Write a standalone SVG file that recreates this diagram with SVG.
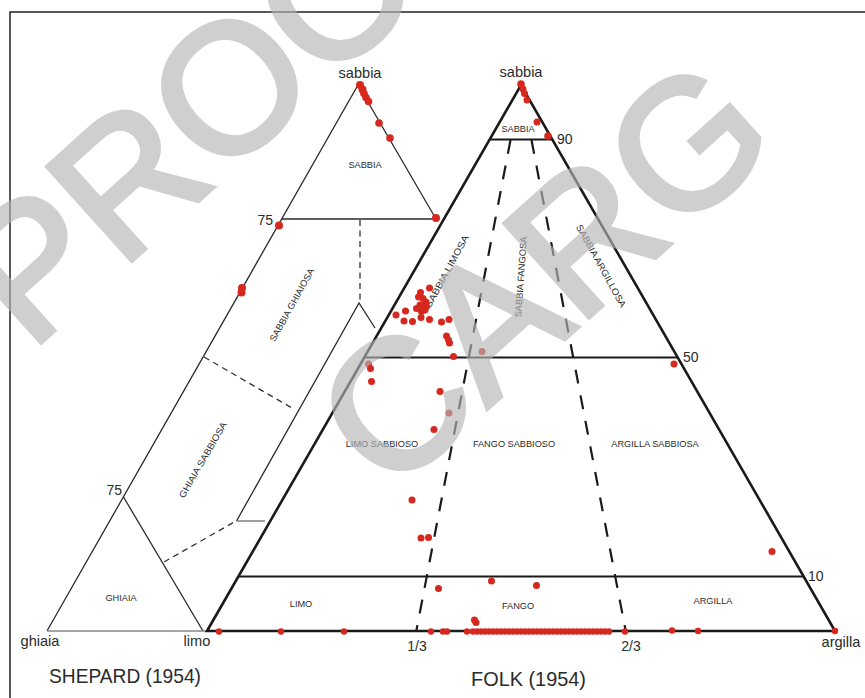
<svg xmlns="http://www.w3.org/2000/svg" width="865" height="698" viewBox="0 0 865 698">
<style>
.t{font-family:"Liberation Sans",Arial,sans-serif;fill:#2b2b2b}
.lab{font-size:9.2px;text-anchor:middle}
.num{font-size:14px}
.ax{font-size:14.6px;text-anchor:middle}
.ttl{font-size:21px}
.sh{fill:none;stroke:#2a2a2a;stroke-width:1.3}
.shg{fill:none;stroke:#888;stroke-width:1.6}
.shd{fill:none;stroke:#333;stroke-width:1.3;stroke-dasharray:6 4.5}
.fk{fill:none;stroke:#1a1a1a;stroke-width:2.6;stroke-linejoin:miter}
.fh{fill:none;stroke:#1a1a1a;stroke-width:2}
.fd{fill:none;stroke:#1a1a1a;stroke-width:2.2;stroke-dasharray:14 12}
.d{fill:#d6281e}
.wm{font-family:"Liberation Sans",Arial,sans-serif;font-size:183px;fill:#b5b5b5;stroke:#b5b5b5;stroke-width:5}
</style>
<rect width="865" height="698" fill="#fff"/>
<path d="M10,698 V12 H865" fill="none" stroke="#222" stroke-width="1.5"/>

<g id="shepard">
  <path class="sh" d="M47,631 L358,85 L436,219"/>
  <path class="sh" d="M282,219 H436"/>
  <path class="sh" d="M123.5,497 L203,631"/>
  <path class="shg" d="M47,631 H206"/>
  <path class="sh" d="M236.5,521 L359,303 L375,328"/>
  <path class="shg" d="M236.5,521 H265"/>
  <path class="shd" d="M360,220 V300"/>
  <path class="shd" d="M204,357 L292,408"/>
  <path class="shd" d="M164,562 L236,521"/>
  <text class="t ax" x="360" y="78">sabbia</text>
  <text class="t lab" x="365" y="168">SABBIA</text>
  <text class="t num" x="273" y="225" text-anchor="end">75</text>
  <text class="t num" x="122" y="495" text-anchor="end">75</text>
  <text class="t lab" transform="translate(292,305) rotate(-61)" y="3" textLength="82" lengthAdjust="spacingAndGlyphs">SABBIA GHIAIOSA</text>
  <text class="t lab" transform="translate(203,460) rotate(-60)" y="3" textLength="86" lengthAdjust="spacingAndGlyphs">GHIAIA SABBIOSA</text>
  <text class="t lab" x="121" y="601">GHIAIA</text>
  <text class="t ax" x="40" y="646">ghiaia</text>
  <text class="t ax" x="197" y="646">limo</text>
  <text class="t ttl" x="49" y="683" textLength="152" lengthAdjust="spacingAndGlyphs">SHEPARD (1954)</text>
</g>

<g id="folk">
  <polygon class="fk" points="207,631 521,85 835,631"/>
  <path class="fh" d="M489,139.5 H553"/>
  <path class="fh" d="M363,357.5 H678"/>
  <path class="fh" d="M238,576.5 H804"/>
  <path class="fd" d="M510.5,140 L416.3,631"/>
  <path class="fd" d="M531.5,140 L625.7,631"/>
  <text class="t ax" x="521" y="77">sabbia</text>
  <text class="t lab" x="518" y="132">SABBIA</text>
  <text class="t num" x="557" y="144">90</text>
  <text class="t num" x="683" y="362">50</text>
  <text class="t num" x="808" y="581">10</text>
  <text class="t lab" transform="translate(447,271.5) rotate(-61.5)" y="3" textLength="81" lengthAdjust="spacingAndGlyphs">SABBIA LIMOSA</text>
  <text class="t lab" transform="translate(521,277) rotate(-86)" y="3" textLength="81" lengthAdjust="spacingAndGlyphs">SABBIA FANGOSA</text>
  <text class="t lab" transform="translate(601,266) rotate(61)" y="3" textLength="93" lengthAdjust="spacingAndGlyphs">SABBIA ARGILLOSA</text>
  <text class="t lab" x="382" y="447">LIMO SABBIOSO</text>
  <text class="t lab" x="514" y="447">FANGO SABBIOSO</text>
  <text class="t lab" x="655" y="447">ARGILLA SABBIOSA</text>
  <text class="t lab" x="301" y="607">LIMO</text>
  <text class="t lab" x="518" y="609">FANGO</text>
  <text class="t lab" x="713" y="604">ARGILLA</text>
  <text class="t num" x="417" y="651" text-anchor="middle">1/3</text>
  <text class="t num" x="631" y="651" text-anchor="middle">2/3</text>
  <text class="t ax" x="841" y="647">argilla</text>
  <text class="t ttl" x="471" y="686" textLength="115" lengthAdjust="spacingAndGlyphs">FOLK (1954)</text>
</g>

<g id="samples" class="d">
  <circle cx="360" cy="85" r="4"/><circle cx="362.5" cy="89.5" r="4"/><circle cx="364" cy="93.5" r="3.8"/><circle cx="366" cy="97.5" r="3.8"/><circle cx="368.5" cy="101.5" r="3.8"/><circle cx="379" cy="123" r="3.8"/><circle cx="390" cy="138" r="3.8"/><circle cx="436" cy="218" r="4"/><circle cx="279" cy="225.5" r="4"/><circle cx="242" cy="288" r="4"/><circle cx="241.5" cy="292.5" r="4"/>
  <circle cx="521" cy="84" r="3.8"/><circle cx="523" cy="89" r="3.5"/><circle cx="524.5" cy="93.5" r="3.5"/><circle cx="527" cy="100" r="3.5"/><circle cx="537" cy="122" r="3.5"/><circle cx="548" cy="136" r="3.8"/>
  <circle cx="420.5" cy="292.5" r="3.5"/><circle cx="429.5" cy="288" r="3.5"/><circle cx="418.5" cy="297" r="3.5"/><circle cx="423" cy="298.5" r="3.5"/><circle cx="426" cy="302" r="3.5"/><circle cx="420" cy="305" r="3.5"/><circle cx="423.5" cy="305.5" r="3.5"/><circle cx="426.5" cy="306.5" r="3.5"/><circle cx="416.5" cy="308.5" r="3.5"/><circle cx="421.5" cy="311.5" r="3.5"/><circle cx="425" cy="310" r="3.5"/><circle cx="396" cy="315" r="3.5"/><circle cx="405.5" cy="311" r="3.5"/><circle cx="404" cy="321" r="3.5"/><circle cx="412.5" cy="321.5" r="3.5"/><circle cx="421" cy="317.5" r="3.5"/><circle cx="429.5" cy="319.5" r="3.5"/><circle cx="441.5" cy="322" r="3.5"/><circle cx="449" cy="319.5" r="3.5"/><circle cx="446.5" cy="336" r="3.5"/><circle cx="448.5" cy="340" r="3.5"/><circle cx="449.5" cy="343" r="3.5"/><circle cx="453.5" cy="356.5" r="3.5"/><circle cx="482" cy="351.5" r="3.5"/><circle cx="368.5" cy="364" r="3.5"/><circle cx="370.5" cy="368.5" r="3.5"/><circle cx="371.5" cy="381.5" r="3.5"/><circle cx="440" cy="391.5" r="3.5"/><circle cx="449" cy="413" r="3.5"/><circle cx="434" cy="429.5" r="3.5"/><circle cx="412" cy="500" r="3.5"/><circle cx="421" cy="538" r="3.5"/><circle cx="428.5" cy="537.5" r="3.5"/><circle cx="674" cy="364" r="3.5"/><circle cx="772" cy="551.5" r="3.5"/><circle cx="438.5" cy="588.5" r="3.5"/><circle cx="491.5" cy="581" r="3.5"/><circle cx="536.5" cy="585.5" r="3.5"/><circle cx="474.5" cy="620" r="3.5"/><circle cx="476" cy="622.5" r="3.5"/>
  <circle cx="219" cy="631.5" r="3.2"/><circle cx="281" cy="631.5" r="3.2"/><circle cx="344" cy="631.5" r="3.2"/><circle cx="431" cy="631.5" r="3.2"/><circle cx="443" cy="631.5" r="3.2"/><circle cx="447" cy="631.5" r="3.2"/><circle cx="467" cy="631.5" r="3.2"/><circle cx="473" cy="631.5" r="3.2"/>
  <circle cx="477" cy="631.5" r="3.2"/><circle cx="481" cy="631.5" r="3.2"/><circle cx="485" cy="631.5" r="3.2"/><circle cx="489" cy="631.5" r="3.2"/><circle cx="493" cy="631.5" r="3.2"/><circle cx="497" cy="631.5" r="3.2"/><circle cx="501" cy="631.5" r="3.2"/><circle cx="505" cy="631.5" r="3.2"/><circle cx="509" cy="631.5" r="3.2"/><circle cx="513" cy="631.5" r="3.2"/><circle cx="517" cy="631.5" r="3.2"/><circle cx="521" cy="631.5" r="3.2"/><circle cx="525" cy="631.5" r="3.2"/><circle cx="529" cy="631.5" r="3.2"/><circle cx="533" cy="631.5" r="3.2"/><circle cx="537" cy="631.5" r="3.2"/><circle cx="541" cy="631.5" r="3.2"/><circle cx="545" cy="631.5" r="3.2"/><circle cx="549" cy="631.5" r="3.2"/><circle cx="553" cy="631.5" r="3.2"/><circle cx="557" cy="631.5" r="3.2"/><circle cx="561" cy="631.5" r="3.2"/><circle cx="565" cy="631.5" r="3.2"/><circle cx="569" cy="631.5" r="3.2"/><circle cx="573" cy="631.5" r="3.2"/><circle cx="577" cy="631.5" r="3.2"/><circle cx="581" cy="631.5" r="3.2"/><circle cx="585" cy="631.5" r="3.2"/><circle cx="589" cy="631.5" r="3.2"/><circle cx="593" cy="631.5" r="3.2"/><circle cx="597" cy="631.5" r="3.2"/><circle cx="601" cy="631.5" r="3.2"/><circle cx="605" cy="631.5" r="3.2"/><circle cx="609" cy="631.5" r="3.2"/>
  <circle cx="625" cy="631.5" r="3.2"/><circle cx="672" cy="630.5" r="3.2"/><circle cx="698" cy="631" r="3.2"/><circle cx="835" cy="631" r="3.2"/>
</g>

<g id="watermark" opacity="0.64">
  <text class="wm" transform="translate(30,352) rotate(-42)">PROOF</text>
  <text class="wm" transform="translate(389,497) rotate(-42)">CARG</text>
</g>
</svg>
